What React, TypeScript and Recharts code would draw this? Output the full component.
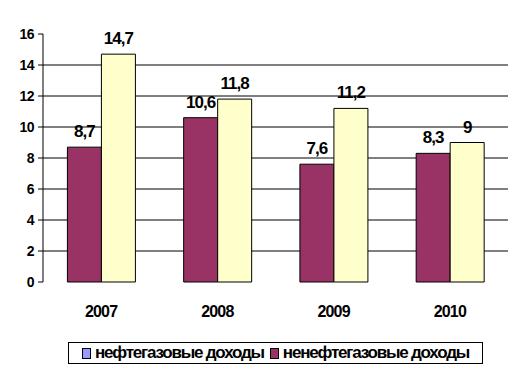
import { BarChart, Bar, XAxis, YAxis, CartesianGrid, LabelList } from "recharts";

const years = ["2007", "2008", "2009", "2010"];
const maroonValues = [8.7, 10.6, 7.6, 8.3];
const yellowValues = [14.7, 11.8, 11.2, 9];
const yTicks = [0, 2, 4, 6, 8, 10, 12, 14, 16];
const gridValues = [2, 4, 6, 8, 10, 12, 14];
const legendItems = [
  { label: "нефтегазовые доходы", color: "#9999FF" },
  { label: "ненефтегазовые доходы", color: "#993366" },
];

const data = years.map((year, i) => ({
  year,
  a: maroonValues[i],
  b: yellowValues[i],
}));

const font = "'Liberation Sans', Arial, sans-serif";
const fmt = (v: any) => String(v).replace(".", ",");

export default function App() {
  return (
    <div style={{ position: "fixed", left: 0, top: 0, width: 523, height: 383, background: "#fff", fontFamily: font }}>
      <BarChart
        width={523}
        height={383}
        data={data}
        margin={{ top: 34, right: 15, left: 0, bottom: 61 }}
        barCategoryGap="21%"
        barGap={0}
      >
        <CartesianGrid horizontal vertical={false} stroke="#000" horizontalValues={gridValues} />
        <XAxis
          xAxisId="sep"
          type="number"
          domain={[0, 4]}
          ticks={[0, 1, 2, 3, 4]}
          height={0}
          tickSize={6}
          tickFormatter={() => ""}
          axisLine={{ stroke: "#000" }}
          tickLine={{ stroke: "#000" }}
        />
        <XAxis
          dataKey="year"
          height={40}
          axisLine={false}
          tickLine={false}
          tickMargin={18}
          tick={{ fill: "#000", fontSize: 16, fontWeight: "bold", fontFamily: font, letterSpacing: -0.8 }}
        />
        <XAxis xAxisId="top" orientation="top" height={0} tick={false} tickLine={false} axisLine={{ stroke: "#808080" }} />
        <YAxis
          domain={[0, 16]}
          ticks={yTicks}
          width={43}
          interval={0}
          tickSize={5}
          tickMargin={4}
          axisLine={{ stroke: "#000" }}
          tickLine={{ stroke: "#000" }}
          tick={{ fill: "#000", fontSize: 14, fontWeight: "bold", fontFamily: font, letterSpacing: -0.5 }}
        />
        <YAxis yAxisId="r" orientation="right" width={0} domain={[0, 16]} tick={false} tickLine={false} axisLine={{ stroke: "#808080" }} />
        <Bar dataKey="a" fill="#993366" stroke="#000" strokeWidth={1} isAnimationActive={false}>
          <LabelList dataKey="a" position="top" offset={10} formatter={fmt} fill="#000" fontSize={17} fontWeight="bold" fontFamily={font} letterSpacing={-1} />
        </Bar>
        <Bar dataKey="b" fill="#FFFFCC" stroke="#000" strokeWidth={1} isAnimationActive={false}>
          <LabelList dataKey="b" position="top" offset={10} formatter={fmt} fill="#000" fontSize={17} fontWeight="bold" fontFamily={font} letterSpacing={-1} />
        </Bar>
      </BarChart>
      <div
        style={{
          position: "absolute",
          left: 68,
          top: 342,
          width: 413,
          height: 20,
          border: "1px solid #000",
          display: "flex",
          alignItems: "center",
          justifyContent: "center",
          gap: 6,
          fontSize: 17,
          fontWeight: "bold",
          letterSpacing: -1.2,
          whiteSpace: "nowrap",
        }}
      >
        {legendItems.map((it) => (
          <span key={it.label} style={{ display: "flex", alignItems: "center", gap: 4 }}>
            <span style={{ width: 7, height: 9, background: it.color, border: "1px solid #000", display: "inline-block" }} />
            {it.label}
          </span>
        ))}
      </div>
    </div>
  );
}
